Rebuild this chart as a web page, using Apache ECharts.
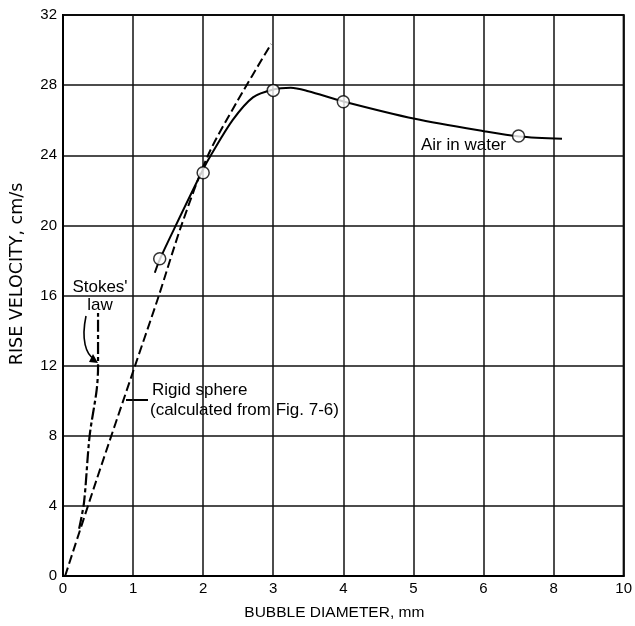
<!DOCTYPE html>
<html>
<head>
<meta charset="utf-8">
<script src="https://cdn.jsdelivr.net/npm/echarts@6/dist/echarts.min.js"></script>
<style>
html,body{margin:0;padding:0;background:#fff;}
#main{width:635px;height:626px;}
</style>
</head>
<body>
<div id="main"></div>
<script>
// x axis tick labels (mm) - the scale is stretched after 6 mm
var tickLabels = [0, 1, 2, 3, 4, 5, 6, 8, 10];

// measured points, air in water
var measDiam = [1.38, 2.0, 3.0, 4.0, 7.0];
var measVel = [18.1, 23.0, 27.7, 27.05, 25.1];

// drawn curve through the air in water points
var airDiam = [1.31, 1.38, 1.61, 2.0, 2.11, 2.42, 2.71, 3.0, 3.25, 3.5, 4.0, 5.02, 6.04, 7.02, 8.24];
var airVel = [17.3, 18.05, 20.0, 23.2, 24.0, 26.0, 27.3, 27.75, 27.85, 27.65, 27.07, 26.08, 25.36, 25.07, 24.94];

// rigid sphere (dashed)
var rigidDiam = [0.03, 0.48, 1.02, 1.36, 1.69, 2.07, 2.49, 2.97];
var rigidVel = [0, 5.5, 11.9, 15.9, 20.0, 24.0, 27.1, 30.35];

// Stokes' law (dash-dot)
var stokesDiam = [0.23, 0.30, 0.38, 0.48, 0.50, 0.50];
var stokesVel = [2.7, 4.2, 8.0, 10.6, 11.9, 15.0];

// map mm onto the axis position (one grid step per tick)
function toPos(mm){
	for(var i=0;i<tickLabels.length-1;i++){
		if(mm<=tickLabels[i+1]){
			return i+(mm-tickLabels[i])/(tickLabels[i+1]-tickLabels[i]);
		}
	}
	return tickLabels.length-1;
}
function pairs(xs, ys){
	var out=[];
	for(var i=0;i<xs.length;i++){
		out.push([toPos(xs[i]), ys[i]]);
	}
	return out;
}

var fontFam = '"Liberation Sans", Arial, Helvetica, sans-serif';
var ink = '#000';

var dom = document.getElementById('main');
var myChart = echarts.init(dom);
var option = {
	animation: false,
	grid: {
		left: 63,
		right: 10,
		top: 15,
		bottom: 50,
		show: true,
		borderColor: ink,
		borderWidth: 2
	},
	xAxis: {
		type: 'value',
		min: 0,
		max: tickLabels.length-1,
		interval: 1,
		name: 'BUBBLE DIAMETER, mm',
		nameLocation: 'middle',
		nameGap: 29,
		nameTextStyle: {fontFamily: fontFam, fontSize: 15.5, color: ink, padding: [0, 18, 0, 0]},
		axisLine: {show: true, lineStyle: {color: ink, width: 2}},
		axisTick: {show: false},
		axisLabel: {
			fontFamily: fontFam, fontSize: 15, color: ink, margin: 5,
			formatter: function(v){ return tickLabels[Math.round(v)]; }
		},
		splitLine: {show: true, lineStyle: {color: '#111', width: 1.5}}
	},
	yAxis: {
		type: 'value',
		min: 0,
		max: 32,
		interval: 4,
		axisLine: {show: true, lineStyle: {color: ink, width: 2}},
		axisTick: {show: false},
		axisLabel: {fontFamily: fontFam, fontSize: 15, color: ink, margin: 6},
		splitLine: {show: true, lineStyle: {color: '#111', width: 1.5}}
	},
	series: [
		{
			name: 'Air in water',
			type: 'line',
			data: pairs(airDiam, airVel),
			smooth: 0.3,
			showSymbol: false,
			lineStyle: {color: ink, width: 2}
		},
		{
			name: 'Rigid sphere',
			type: 'line',
			data: pairs(rigidDiam, rigidVel),
			smooth: 0.3,
			showSymbol: false,
			lineStyle: {color: ink, width: 2, type: [9, 4]}
		},
		{
			name: "Stokes' law",
			type: 'line',
			data: pairs(stokesDiam, stokesVel),
			smooth: 0.3,
			showSymbol: false,
			lineStyle: {color: ink, width: 2.2, type: [12, 3, 4, 3]}
		},
		{
			name: 'measured',
			type: 'scatter',
			data: pairs(measDiam, measVel),
			symbol: 'circle',
			symbolSize: 12,
			z: 5,
			itemStyle: {color: '#fff', borderColor: ink, borderWidth: 1.5}
		}
	],
	graphic: [
		{
			type: 'text', x: 17, y: 274, rotation: Math.PI/2,
			style: {text: 'RISE VELOCITY, cm/s', font: '17.5px "DejaVu Sans", sans-serif', fill: ink, align: 'center', verticalAlign: 'middle'}
		},
		{
			type: 'text', x: 421, y: 145,
			style: {text: 'Air in water', font: '17px ' + fontFam, fill: ink, verticalAlign: 'middle'}
		},
		{
			type: 'text', x: 100, y: 287,
			style: {text: "Stokes'", font: '17px ' + fontFam, fill: ink, align: 'center', verticalAlign: 'middle'}
		},
		{
			type: 'text', x: 100, y: 305,
			style: {text: 'law', font: '17px ' + fontFam, fill: ink, align: 'center', verticalAlign: 'middle'}
		},
		{
			type: 'text', x: 152, y: 390,
			style: {text: 'Rigid sphere', font: '17px ' + fontFam, fill: ink, verticalAlign: 'middle'}
		},
		{
			type: 'text', x: 150, y: 410,
			style: {text: '(calculated from Fig. 7-6)', font: '17px ' + fontFam, fill: ink, verticalAlign: 'middle'}
		},
		{
			type: 'line',
			shape: {x1: 126, y1: 400, x2: 148, y2: 400},
			style: {stroke: ink, lineWidth: 2}
		},
		{
			type: 'bezierCurve',
			shape: {x1: 86, y1: 316, cpx1: 81, cpy1: 340, cpx2: 86, cpy2: 354, x2: 94, y2: 359},
			style: {stroke: ink, lineWidth: 1.6, fill: null}
		},
		{
			type: 'polygon',
			shape: {points: [[98, 363], [89, 362], [93, 354]]},
			style: {fill: ink}
		}
	]
};
myChart.setOption(option);
</script>
</body>
</html>
